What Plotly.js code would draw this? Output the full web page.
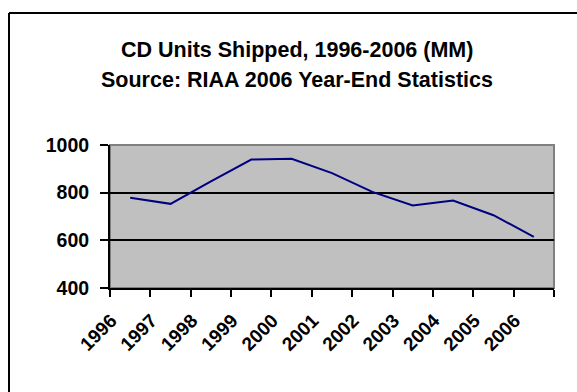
<!DOCTYPE html>
<html>
<head>
<meta charset="utf-8">
<script src="https://cdn.plot.ly/plotly-3.0.1.min.js"></script>
<style>
  html, body { margin: 0; padding: 0; background: #fff; overflow: hidden; }
  #chart { width: 577px; height: 392px; }
</style>
</head>
<body>
<div id="chart"></div>
<script>
const years = ["1996","1997","1998","1999","2000","2001","2002","2003","2004","2005","2006"];
const unitsShipped = [778.9, 753.1, 847.0, 938.9, 942.5, 881.9, 803.3, 746.0, 767.0, 705.4, 614.9];
const yTicks = [400, 600, 800, 1000];
const titleLine1 = "CD Units Shipped, 1996-2006 (MM)";
const titleLine2 = "Source: RIAA 2006 Year-End Statistics";

const fontFam = "Liberation Sans, Arial, Helvetica, sans-serif";

const trace = {
  x: years,
  y: unitsShipped,
  type: "scatter",
  mode: "lines",
  line: { color: "#000080", width: 2 },
  hoverinfo: "x+y"
};

// frame position (paper units relative to plot area 110..554 x 145..288)
const fx = (9 - 110) / 444;
const fy = 1 + (145 - 13) / 143;

const layout = {
  width: 577,
  height: 392,
  margin: { l: 110, r: 23, t: 145, b: 104 },
  paper_bgcolor: "#FFFFFF",
  plot_bgcolor: "#C0C0C0",
  showlegend: false,
  xaxis: {
    type: "category",
    range: [-0.5, years.length - 0.5],
    tickson: "boundaries",
    ticks: "outside",
    ticklen: 7,
    tickwidth: 2,
    tickcolor: "#000",
    showline: true,
    linecolor: "#000",
    linewidth: 2,
    showgrid: false,
    zeroline: false,
    tickangle: -45,
    ticklabelstandoff: 12,
    ticklabelshift: -19,
    tickfont: { family: fontFam, size: 19, color: "#000", weight: "bold" },
    fixedrange: true
  },
  yaxis: {
    range: [400, 1000],
    tickvals: yTicks,
    ticktext: yTicks.map(String),
    ticks: "outside",
    ticklen: 8,
    tickwidth: 2,
    tickcolor: "#000",
    showline: true,
    linecolor: "#000",
    linewidth: 2,
    showgrid: true,
    gridcolor: "#000",
    gridwidth: 2,
    zeroline: false,
    ticklabelstandoff: 7,
    tickfont: { family: fontFam, size: 19.5, color: "#000", weight: "bold" },
    fixedrange: true
  },
  shapes: [
    { type: "rect", xref: "paper", yref: "paper",
      x0: 0, x1: 1, y0: 0, y1: 1,
      line: { color: "#808080", width: 2 }, layer: "below" },
    { type: "line", xref: "paper", yref: "paper",
      x0: fx, x1: fx, y0: -1.0, y1: fy,
      line: { color: "#000", width: 2 } },
    { type: "line", xref: "paper", yref: "paper",
      x0: fx, x1: 1.1, y0: fy, y1: fy,
      line: { color: "#000", width: 2 } }
  ],
  annotations: [
    { text: titleLine1, xref: "paper", yref: "paper", x: 0.4212, y: 1.664,
      xanchor: "center", yanchor: "middle", showarrow: false,
      font: { family: fontFam, size: 21.5, color: "#000", weight: "bold" } },
    { text: titleLine2, xref: "paper", yref: "paper", x: 0.4212, y: 1.455,
      xanchor: "center", yanchor: "middle", showarrow: false,
      font: { family: fontFam, size: 21.5, color: "#000", weight: "bold" } }
  ]
};

Plotly.newPlot("chart", [trace], layout, { displayModeBar: false, staticPlot: true });
</script>
</body>
</html>
